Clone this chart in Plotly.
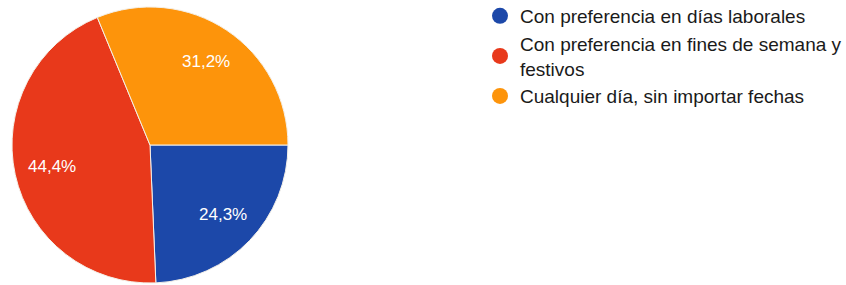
import math
import plotly.graph_objects as go

labels = ["Con preferencia en días laborales",
          "Con preferencia en fines de semana y<br>festivos",
          "Cualquier día, sin importar fechas"]
values = [24.3, 44.4, 31.2]
colors = ["#1c48a9", "#e8391b", "#fd940b"]

W, H = 846, 285
cx, cy, R = 150, 145, 138  # pie geometry in pixels
x0, x1 = (cx - R) / W, (cx + R) / W
y0, y1 = 1 - (cy + R) / H, 1 - (cy - R) / H

fig = go.Figure()
fig.add_trace(go.Pie(
    labels=labels,
    values=values,
    sort=False,
    direction="clockwise",
    rotation=90,
    marker=dict(colors=colors, line=dict(color="#f4f0e8", width=1)),
    textinfo="none",
    domain=dict(x=[x0, x1], y=[y0, y1]),
    hoverinfo="label+percent",
    showlegend=False,
))

# legend entries with circle markers
for lab, col in zip(labels, colors):
    fig.add_trace(go.Scatter(
        x=[None], y=[None], mode="markers", name=lab, legendgroup=lab,
        marker=dict(symbol="circle", size=16, color=col),
    ))

# slice labels placed at mid-angle of each slice
total = sum(values)
start = 90.0
annotations = []
for v, col in zip(values, colors):
    span = 360.0 * v / total
    mid = math.radians(start + span / 2)
    f = 0.73
    px = cx + f * R * math.sin(mid)
    py = cy - f * R * math.cos(mid)
    annotations.append(dict(
        x=px / W, y=1 - py / H, xref="paper", yref="paper",
        text=f"{100 * v / total:.1f}%".replace(".", ","),
        showarrow=False, font=dict(family="Arial", size=17, color="white"),
        xanchor="center", yanchor="middle",
    ))
    start += span

fig.update_layout(
    width=W, height=H,
    margin=dict(l=0, r=0, t=0, b=0, autoexpand=False),
    paper_bgcolor="white",
    plot_bgcolor="white",
    xaxis=dict(visible=False, domain=[0.4, 0.5]),
    yaxis=dict(visible=False),
    showlegend=True,
    annotations=annotations,
    legend=dict(x=480 / W, y=1 + 3 / H, xanchor="left", yanchor="top",
                font=dict(family="Arial", size=19, color="#1a1a1a"),
                itemsizing="trace", tracegroupgap=0,
                bgcolor="rgba(0,0,0,0)"),
)
fig.write_html("out.html", config={"displayModeBar": False},
               post_script="document.body.style.margin='0';")
